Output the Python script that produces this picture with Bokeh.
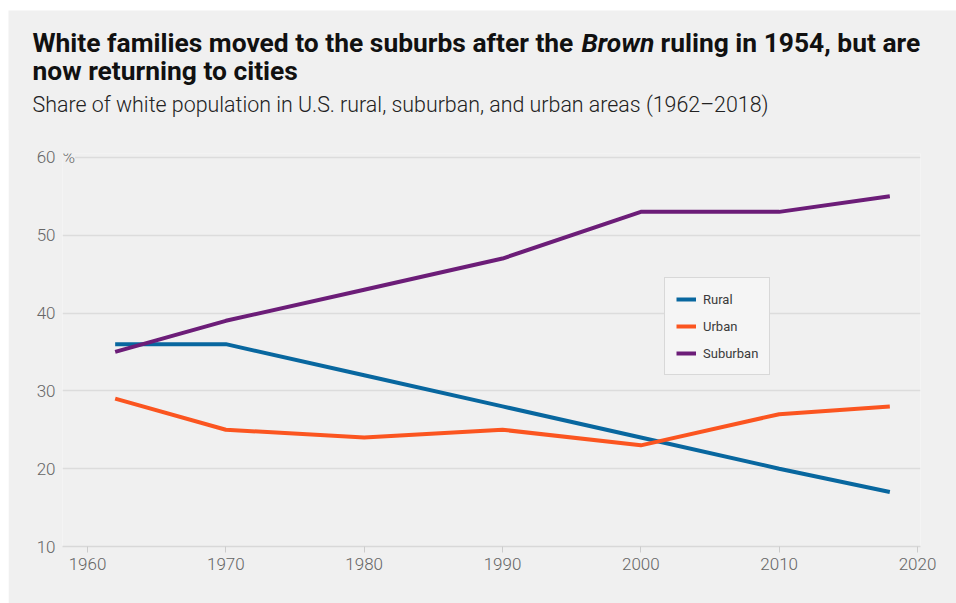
from bokeh.plotting import figure
from bokeh.layouts import column
from bokeh.models import Label, Legend, LegendItem, FixedTicker, Range1d
from bokeh.core.properties import value
from bokeh.embed import file_html
from bokeh.resources import INLINE

# ---- data ----
years = [1962, 1970, 1980, 1990, 2000, 2010, 2018]
rural = [36, 36, 32, 28, 24, 20, 17]
urban = [29, 25, 24, 25, 23, 27, 28]
suburban = [35, 39, 43, 47, 53, 53, 55]
series_names = ["Rural", "Urban", "Suburban"]
x_ticks = [1960, 1970, 1980, 1990, 2000, 2010, 2020]
y_ticks = [10, 20, 30, 40, 50, 60]

title_parts = ["White families moved to the suburbs after the", "Brown", "ruling in 1954, but are"]
title_line2 = "now returning to cities"
subtitle = "Share of white population in U.S. rural, suburban, and urban areas (1962\u20132018)"

# ---- style ----
BG = "#f0f0f0"
C_RURAL = "#08679f"
C_URBAN = "#fb5520"
C_SUB = "#6c1d78"
FONT = "Roboto"
LIGHT = "Roboto Light"
W = 948
HEAD_H = 120

# ---- header (title + subtitle) ----
head = figure(width=W, height=HEAD_H, output_backend="svg", toolbar_location=None,
              x_range=Range1d(0, W), y_range=Range1d(HEAD_H, 0),
              x_axis_location=None, y_axis_location=None,
              min_border=0, min_border_left=0, min_border_right=0,
              min_border_top=0, min_border_bottom=0)
head.frame_align = False
head.margin = (10, 0, 0, 8)
head.background_fill_color = BG
head.border_fill_color = BG
head.outline_line_color = None
head.grid.visible = False

tkw = dict(text_font=value(FONT), text_font_size="26.4px", text_color="#111111",
           text_baseline="alphabetic", text_align="left")
head.text(x=[24], y=[32], text=[title_parts[0]], text_font_style="bold", **tkw)
head.text(x=[573], y=[32], text=[title_parts[1]], text_font_style="bold italic", **tkw)
head.text(x=[652], y=[32], text=[title_parts[2]], text_font_style="bold", **tkw)
head.text(x=[24], y=[60], text=[title_line2], text_font_style="bold", **tkw)
head.text(x=[24], y=[94], text=[subtitle], text_font=value(LIGHT), text_font_size="21.4px",
          text_color="#222222", text_baseline="alphabetic", text_align="left")

# ---- main chart ----
p = figure(width=W, height=593 - HEAD_H + 1, output_backend="svg", toolbar_location=None,
           x_range=(1958.193, 2020.217), y_range=(10, 60.5),
           min_border_left=54, min_border_right=36, min_border_top=24, min_border_bottom=57)
p.frame_align = False
p.margin = (-1, 0, 0, 8)
p.background_fill_color = BG
p.border_fill_color = BG
p.outline_line_color = None

p.xgrid.grid_line_color = None
p.ygrid.grid_line_color = "#dcdcdc"
p.ygrid.grid_line_width = 1.5
p.ygrid.ticker = FixedTicker(ticks=y_ticks)

p.xaxis.ticker = FixedTicker(ticks=x_ticks)
p.yaxis.ticker = FixedTicker(ticks=y_ticks)
for ax in (p.xaxis, p.yaxis):
    ax.major_label_text_font = LIGHT
    ax.major_label_text_font_size = "17px"
    ax.major_label_text_color = "#666666"
    ax.minor_tick_line_color = None
p.yaxis.axis_line_color = None
p.yaxis.major_tick_line_color = None
p.yaxis.major_label_standoff = 1
p.xaxis.axis_line_color = "#d8d8d8"
p.xaxis.axis_line_width = 1.5
p.xaxis.major_tick_line_color = "#cccccc"
p.xaxis.major_tick_out = 6
p.xaxis.major_tick_in = 0
p.xaxis.major_label_standoff = 5

r1 = p.line(years, rural, line_width=4, color=C_RURAL)
r2 = p.line(years, urban, line_width=4, color=C_URBAN)
r3 = p.line(years, suburban, line_width=4, color=C_SUB)

legend = Legend(items=[LegendItem(label=series_names[0], renderers=[r1]),
                       LegendItem(label=series_names[1], renderers=[r2]),
                       LegendItem(label=series_names[2], renderers=[r3])],
                location=(602, 171))
legend.label_text_font = FONT
legend.label_text_font_size = "13px"
legend.label_text_color = "#3a3a3a"
legend.glyph_width = 20
legend.glyph_height = 20
legend.label_height = 20
legend.spacing = 7
legend.padding = 11
legend.margin = 0
legend.label_standoff = 7
legend.border_line_color = "#bbbbbb"
legend.border_line_width = 1.5
legend.background_fill_color = "#f5f5f5"
legend.background_fill_alpha = 1
p.add_layout(legend)

# percent sign after the top tick label
p.add_layout(Label(x=1958.193, y=60, text="%",
                   text_font=LIGHT, text_font_size="17px", text_color="#666666",
                   text_align="left", text_baseline="middle",
                   background_fill_color=BG))

layout = column(head, p, spacing=0)
layout.margin = 0
open("out.html", "w").write(file_html(layout, INLINE))
